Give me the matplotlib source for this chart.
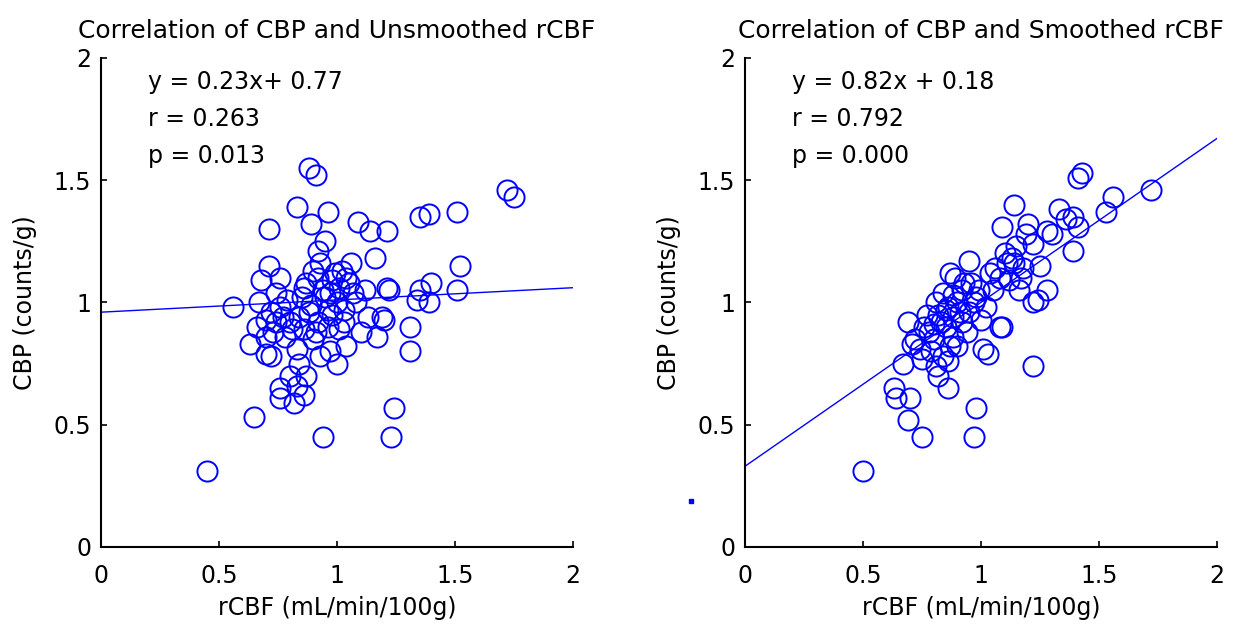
import matplotlib
matplotlib.use('Agg')
import matplotlib.pyplot as plt

# unsmoothed rCBF vs CBP
raw_x = [0.45, 0.65, 0.94, 1.24, 1.23, 0.76, 0.76, 0.83, 0.86, 0.82,
         0.88, 0.91, 0.83, 0.96, 0.89, 0.71, 1.09, 1.14, 1.21, 1.35,
         1.39, 1.51, 1.72, 1.75, 1.16, 1.52, 1.40, 1.35, 1.51, 1.34,
         1.31, 1.31, 1.20, 1.17, 0.56, 0.63, 0.70, 0.71, 0.76, 0.68,
         0.92, 0.93, 1.06, 1.01, 1.07, 1.22, 1.39, 1.19, 0.72, 0.83,
         0.93, 1.04, 0.80, 0.87, 0.70, 0.67, 0.76, 0.77, 0.86, 0.96,
         1.01, 1.13, 1.08, 0.98, 0.87, 0.90, 0.81, 0.90, 0.95, 1.00,
         0.98, 1.03, 0.92, 0.88, 0.94, 1.05, 0.99, 0.85, 0.78, 0.73,
         0.84, 0.97, 1.10, 1.00, 0.92, 1.02, 0.66, 0.74, 0.95, 1.12,
         1.21, 0.72, 0.80, 0.89, 0.97, 1.04, 0.70, 0.79, 0.91, 1.03,
         0.84, 0.96, 0.74, 0.86]
raw_y = [0.31, 0.53, 0.45, 0.57, 0.45, 0.65, 0.61, 0.66, 0.62, 0.59,
         1.55, 1.52, 1.39, 1.37, 1.32, 1.30, 1.33, 1.29, 1.29, 1.35,
         1.36, 1.37, 1.46, 1.43, 1.18, 1.15, 1.08, 1.05, 1.05, 1.01,
         0.90, 0.80, 0.93, 0.86, 0.98, 0.83, 0.79, 1.15, 1.10, 1.09,
         1.21, 1.16, 1.16, 1.06, 1.04, 1.05, 1.00, 0.94, 0.78, 0.81,
         0.78, 0.82, 0.70, 0.70, 0.93, 1.00, 0.98, 0.94, 0.89, 0.97,
         0.89, 0.94, 1.00, 1.09, 1.08, 1.13, 0.89, 0.85, 1.02, 1.00,
         0.95, 0.97, 0.92, 0.96, 1.05, 1.08, 1.12, 1.02, 0.86, 0.88,
         0.75, 0.80, 0.88, 0.75, 1.10, 1.13, 0.90, 1.04, 1.25, 1.05,
         1.06, 0.96, 0.92, 0.99, 1.04, 1.10, 0.86, 1.01, 0.88, 0.92,
         0.94, 0.90, 0.92, 1.06]

# smoothed rCBF vs CBP
smo_x = [0.50, 0.75, 0.97, 0.98, 0.86, 1.22, 0.63, 0.64, 0.70, 0.69,
         0.67, 0.69, 0.71, 1.03, 1.09, 1.22, 1.43, 1.41, 1.72, 1.56,
         1.53, 1.33, 1.39, 1.41, 1.14, 1.09, 1.19, 1.28, 1.39, 0.95,
         1.11, 1.25, 1.28, 1.24, 1.08, 1.01, 1.12, 1.05, 0.98, 0.87,
         0.81, 0.88, 0.78, 0.74, 0.84, 0.92, 0.99, 1.08, 1.14, 1.17,
         1.22, 1.30, 0.82, 0.85, 0.80, 0.86, 0.90, 0.83, 0.88, 0.92,
         0.79, 0.76, 0.84, 0.95, 0.90, 0.86, 0.94, 0.77, 0.72, 0.81,
         0.93, 1.02, 1.15, 1.18, 1.20, 1.10, 1.16, 1.36, 0.89, 0.97,
         0.87, 1.00, 0.75, 0.82, 0.85, 0.91, 0.80, 0.88, 0.96, 1.04,
         1.13, 1.06]
smo_y = [0.31, 0.45, 0.45, 0.57, 0.65, 0.74, 0.65, 0.61, 0.61, 0.52,
         0.75, 0.92, 0.83, 0.79, 0.90, 1.00, 1.53, 1.51, 1.46, 1.43,
         1.37, 1.38, 1.35, 1.31, 1.40, 1.31, 1.28, 1.29, 1.21, 1.17,
         1.16, 1.15, 1.05, 1.01, 0.90, 0.81, 1.09, 1.05, 1.02, 1.12,
         1.00, 0.94, 0.88, 0.81, 0.78, 1.05, 1.05, 1.10, 1.16, 1.10,
         1.24, 1.28, 0.95, 0.90, 0.85, 0.98, 1.00, 0.92, 0.86, 0.92,
         0.80, 0.90, 1.04, 0.96, 0.82, 0.76, 0.88, 0.95, 0.85, 0.74,
         1.08, 0.98, 1.23, 1.14, 1.32, 1.20, 1.05, 1.34, 1.10, 1.00,
         0.82, 0.93, 0.77, 0.70, 0.97, 0.96, 0.91, 1.03, 1.08, 1.12,
         1.18, 1.14]

# stray mark next to the right panel
stray_x = [-0.23]
stray_y = [0.19]

# fitted lines as drawn (intercept, slope)
raw_fit = (0.96, 0.05)
smo_fit = (0.33, 0.67)

titles = ['Correlation of CBP and Unsmoothed rCBF', 'Correlation of CBP and Smoothed rCBF']
stats = [['y = 0.23x+ 0.77', 'r = 0.263', 'p = 0.013'],
         ['y = 0.82x + 0.18', 'r = 0.792', 'p = 0.000']]
ticks = [0, 0.5, 1, 1.5, 2]
tick_labels = ['0', '0.5', '1', '1.5', '2']

plt.rcParams['font.family'] = ['DejaVu Sans']
fs = 17

fig = plt.figure(figsize=(12.55, 6.24), dpi=100)
ax1 = fig.add_axes([0.0805, 0.1234, 0.376, 0.784])
ax2 = fig.add_axes([0.5936, 0.1234, 0.376, 0.784])

panels = [(ax1, raw_x, raw_y, raw_fit), (ax2, smo_x, smo_y, smo_fit)]
for i, (ax, xs, ys, fit) in enumerate(panels):
    ax.plot(xs, ys, 'o', mfc='none', mec='blue', ms=14.5, mew=1.4, clip_on=False)
    ax.plot([0, 2], [fit[0], fit[0] + 2 * fit[1]], color='blue', lw=1)
    ax.set_xlim(0, 2)
    ax.set_ylim(0, 2)
    ax.set_xticks(ticks)
    ax.set_xticklabels(tick_labels)
    ax.set_yticks(ticks)
    ax.set_yticklabels(tick_labels)
    ax.tick_params(direction='in', length=4, width=1.2, labelsize=fs, pad=7)
    ax.tick_params(axis='x', pad=12)
    for s in ['top', 'right']:
        ax.spines[s].set_visible(False)
    for s in ['left', 'bottom']:
        ax.spines[s].set_linewidth(1.5)
    ax.set_title(titles[i], fontsize=18, pad=14)
    ax.set_xlabel('rCBF (mL/min/100g)', fontsize=fs, labelpad=6)
    ax.set_ylabel('CBP (counts/g)', fontsize=fs, labelpad=12)
    for k, t in enumerate(stats[i]):
        ax.text(0.2, 1.90 - 0.15 * k, t, fontsize=fs, va='center')

ax2.plot(stray_x, stray_y, 's', color='blue', ms=3, clip_on=False)

fig.savefig('out.png', dpi=100)
